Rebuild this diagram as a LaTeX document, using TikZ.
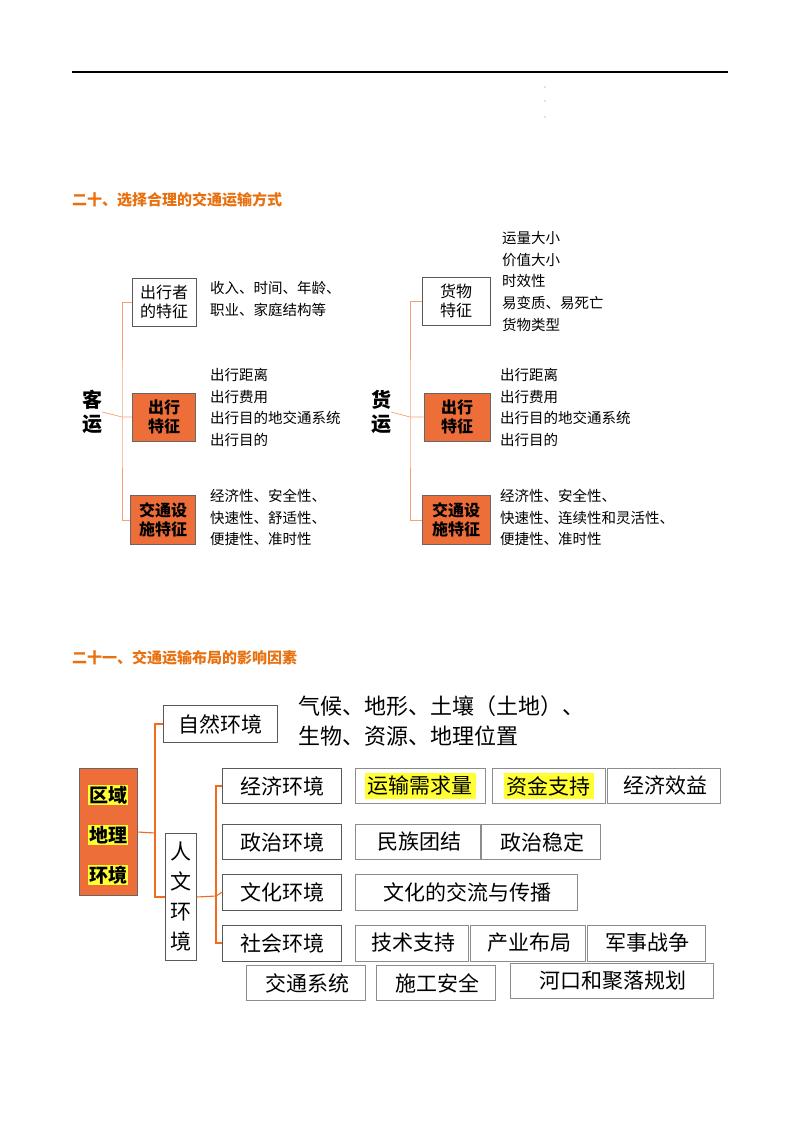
\documentclass[tikz,border=0pt]{standalone}
\usepackage{fontspec}
\setmainfont{Noto Sans CJK SC}
\newfontfamily\cjkb{Noto Sans CJK SC}[BoldFont={* Bold}]
\definecolor{ttl}{HTML}{E8700E}
\definecolor{org}{HTML}{EE6E3A}
\definecolor{brk}{HTML}{F4A07A}
\definecolor{brk2}{HTML}{F26A1E}
\definecolor{yel}{HTML}{FFFF33}
\begin{document}
\begin{tikzpicture}[x=1pt,y=-1pt,
  wbox/.style={draw=black!65,fill=white,inner sep=0,align=center,font=\fontsize{16}{19}\selectfont},
  obox/.style={draw=black!60,fill=org,line width=1pt,inner sep=0,align=center,font=\fontsize{16}{19}\selectfont\bfseries},
  txt/.style={anchor=north west,align=left,inner sep=0,font=\fontsize{14.5}{21.7}\selectfont},
  big/.style={draw=black!45,inner sep=0,anchor=west,font=\fontsize{21}{25}\selectfont},
  ttlf/.style={anchor=west,inner sep=0,text=ttl,font=\fontsize{15}{18}\selectfont\bfseries},
  br/.style={draw=brk,line width=0.7pt},
  br2/.style={draw=brk2,line width=1.1pt}]
\useasboundingbox (0,0) rectangle (800,1132);
\draw[line width=1.2pt] (72,72) -- (728,72);
\foreach \yy in {87,101,117} \fill[black!50] (545,\yy) circle (0.6);
\node[ttlf] (t1) at (72,200) {二十、选择合理的交通运输方式};
% passenger
\node[inner sep=0,align=center,font=\fontsize{20}{24}\selectfont\bfseries] (ky) at (92,412) {客\\运};
\node[wbox,minimum width=64,minimum height=48] (p1) at (164,302) {出行者\\的特征};
\node[obox,minimum width=63,minimum height=48] (p2) at (164,417) {出行\\特征};
\node[obox,minimum width=65,minimum height=49] (p3) at (163,520) {交通设\\施特征};
\coordinate (pb) at (122,417);
\draw[br] (p1.west) -| (pb) |- (p3.west);
\draw[br] (p2.west) -- (pb) -- (ky.east);
\node[txt] (pt1) at (210,281) {收入、时间、年龄、\\职业、家庭结构等};
\node[txt] (pt2) at (210,368) {出行距离\\出行费用\\出行目的地交通系统\\出行目的};
\node[txt] (pt3) at (210,489) {经济性、安全性、\\快速性、舒适性、\\便捷性、准时性};
% freight
\node[inner sep=0,align=center,font=\fontsize{20}{24}\selectfont\bfseries] (hy) at (381,412) {货\\运};
\node[wbox,minimum width=68,minimum height=48] (f1) at (456,301) {货物\\特征};
\node[obox,minimum width=66,minimum height=48] (f2) at (457,417) {出行\\特征};
\node[obox,minimum width=68,minimum height=49] (f3) at (456,520) {交通设\\施特征};
\coordinate (fb) at (410,417);
\draw[br] (f1.west) -| (fb) |- (f3.west);
\draw[br] (f2.west) -- (fb) -- (hy.east);
\node[txt] (ft1) at (502,231) {运量大小\\价值大小\\时效性\\易变质、易死亡\\货物类型};
\node[txt] (ft2) at (500,368) {出行距离\\出行费用\\出行目的地交通系统\\出行目的};
\node[txt] (ft3) at (500,489) {经济性、安全性、\\快速性、连续性和灵活性、\\便捷性、准时性};
% section 2
\node[ttlf] (t2) at (72,658) {二十一、交通运输布局的影响因素};
\node[draw=black!60,fill=org,line width=1pt,minimum width=58,minimum height=127,inner sep=0] (qy) at (108,832) {};
\foreach \tt/\yy in {区域/795,地理/835,环境/875}
  \node[fill=yel,inner sep=1pt,font=\fontsize{19}{22}\selectfont\bfseries] at (108,\yy) {\tt};
\node[wbox,minimum width=114,minimum height=37,font=\fontsize{21}{25}\selectfont] (zr) at (220,724) {自然环境};
\node[wbox,minimum width=31,minimum height=127,font=\fontsize{21}{30}\selectfont] (rw) at (181,897) {人\\文\\环\\境};
\coordinate (b1) at (155,833);
\draw[br2] (zr.west) -| (b1) |- (rw.west);
\draw[br2] (qy.east) -- (b1);
\node[inner sep=0,anchor=north west,align=left,font=\fontsize{22}{30}\selectfont] (zt) at (298,695) {气候、地形、土壤（土地）、\\生物、资源、地理位置};
\node[wbox,minimum width=119,minimum height=35,font=\fontsize{21}{25}\selectfont] (e1) at (282,786) {经济环境};
\node[wbox,minimum width=119,minimum height=35,font=\fontsize{21}{25}\selectfont] (e2) at (282,842) {政治环境};
\node[wbox,minimum width=119,minimum height=36,font=\fontsize{21}{25}\selectfont] (e3) at (282,892) {文化环境};
\node[wbox,minimum width=119,minimum height=36,font=\fontsize{21}{25}\selectfont] (e4) at (282,943) {社会环境};
\coordinate (b2) at (216,896);
\draw[br2] (e1.west) -| (b2) |- (e4.west);
\draw[br2] (e3.west) -- (b2) -- (rw.east);
\node[big,minimum width=130,minimum height=35] (a1) at (355,786) {\colorbox{yel}{运输需求量}};
\node[big,minimum width=113,minimum height=35] (a2) at (492,786) {\colorbox{yel}{资金支持}};
\node[big,minimum width=113,minimum height=35] (a3) at (607,786) {\,经济效益};
\node[big,minimum width=125,minimum height=35] (b1n) at (355,842) {\,民族团结};
\node[big,minimum width=119,minimum height=35] (b2n) at (481,842) {\,政治稳定};
\node[big,minimum width=222,minimum height=36] (c1) at (355,892) {\,文化的交流与传播};
\node[big,minimum width=113,minimum height=36] (d1) at (355,943) {\,技术支持};
\node[big,minimum width=115,minimum height=36] (d2) at (470,943) {\,产业布局};
\node[big,minimum width=118,minimum height=36] (d3) at (587,943) {\,军事战争};
\node[big,minimum width=119,minimum height=35] (g1) at (246,983) {\,交通系统};
\node[big,minimum width=119,minimum height=35] (g2) at (376,983) {\,施工安全};
\node[big,minimum width=203,minimum height=35] (g3) at (510,981) {\,河口和聚落规划};
\end{tikzpicture}
\end{document}
